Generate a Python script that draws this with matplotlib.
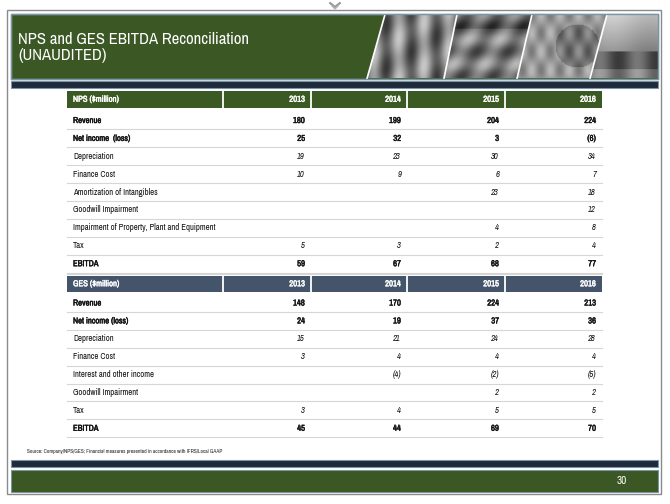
import matplotlib
matplotlib.use("Agg")
import matplotlib.pyplot as plt
from matplotlib import font_manager
import matplotlib.patheffects as pe
from matplotlib.patches import Rectangle, Polygon
import numpy as np

# ---------------- data ----------------
years = ["2013", "2014", "2015", "2016"]

nps_title = "NPS ($million)"
nps_labels = ["Revenue", "Net income  (loss)", "Depreciation", "Finance Cost",
              "Amortization of Intangibles", "Goodwill Impairment",
              "Impairment of Property, Plant and Equipment", "Tax", "EBITDA"]
nps_revenue = [180, 199, 204, 224]
nps_net_income = [25, 32, 3, -6]
nps_depreciation = [19, 23, 30, 34]
nps_finance_cost = [10, 9, 6, 7]
nps_amortization = [None, None, 23, 18]
nps_goodwill = [None, None, None, 12]
nps_ppe_impairment = [None, None, 4, 8]
nps_tax = [5, 3, 2, 4]
nps_ebitda = [59, 67, 68, 77]
nps_bold = [True, True, False, False, False, False, False, False, True]

ges_title = "GES ($million)"
ges_labels = ["Revenue", "Net income (loss)", "Depreciation", "Finance Cost",
              "Interest and other income", "Goodwill Impairment", "Tax", "EBITDA"]
ges_revenue = [148, 170, 224, 213]
ges_net_income = [24, 19, 37, 36]
ges_depreciation = [15, 21, 24, 28]
ges_finance_cost = [3, 4, 4, 4]
ges_interest = [None, -4, -2, -5]
ges_goodwill = [None, None, 2, 2]
ges_tax = [3, 4, 5, 5]
ges_ebitda = [45, 44, 69, 70]
ges_bold = [True, True, False, False, False, False, False, True]

slide_title = "NPS and GES EBITDA Reconciliation\n(UNAUDITED)"
source_note = "Source: Company/NPS/GES; Financial measures presented in accordance with IFRS/Local GAAP"
page_number = "30"

nps_values = [nps_revenue, nps_net_income, nps_depreciation, nps_finance_cost,
              nps_amortization, nps_goodwill, nps_ppe_impairment, nps_tax, nps_ebitda]
ges_values = [ges_revenue, ges_net_income, ges_depreciation, ges_finance_cost,
              ges_interest, ges_goodwill, ges_tax, ges_ebitda]

# ---------------- fonts ----------------
narrow = None
for f in font_manager.fontManager.ttflist:
    if "Narrow" in f.name or "Condensed" in f.name:
        narrow = f.name
        break

if narrow is not None:
    FAM = [narrow, "DejaVu Sans"]
    SCALE = 1.0
else:
    FAM = ["Liberation Sans", "DejaVu Sans"]
    SCALE = 0.9

plt.rcParams["font.family"] = FAM

# ---------------- colours ----------------
GREEN = "#3a5724"
HEAD_GREEN = "#3b5a23"
SLATE = "#44546a"
NAVY = "#1f2a3b"
EDGE = "#7a96a6"
GRID = "#d6d6d6"
INK = "#111111"

W, H = 670, 504
fig = plt.figure(figsize=(W / 100, H / 100), dpi=100)
ax = fig.add_axes([0, 0, 1, 1])
ax.set_xlim(0, W)
ax.set_ylim(H, 0)
ax.axis("off")

def txt(x, y, s, fontsize=6, bold=False, color=INK, **kw):
    if bold:
        kw["path_effects"] = [pe.withStroke(linewidth=0.3, foreground=color)]
        kw["fontweight"] = "bold"
    ax.text(x, y, s, fontsize=fontsize * SCALE, color=color, **kw)

# outer page border
ax.add_patch(Rectangle((7, 10), 654, 484, fill=False, ec="#8a8a8a", lw=1.0))

# small emblem at top
ax.plot([330, 335, 340], [3, 7, 3], color="#9a9a9a", lw=1.6, solid_capstyle="round")
ax.plot([332, 335, 338], [6, 9, 6], color="#b5b5b5", lw=1.0)

# header green band
ax.add_patch(Rectangle((11, 14), 647, 65, fc=GREEN, ec=EDGE, lw=1.0))

# photo panels (greyscale impression)
panels = [
    [(385, 14.5), (457, 14.5), (444, 78.5), (367, 78.5)],
    [(457, 14.5), (532, 14.5), (517, 78.5), (444, 78.5)],
    [(532, 14.5), (607, 14.5), (590, 78.5), (517, 78.5)],
    [(607, 14.5), (657.5, 14.5), (657.5, 78.5), (590, 78.5)],
]
yy, xx = np.mgrid[0:65, 0:300].astype(float)
textures = [
    0.50 + 0.20 * np.sin(xx / 4.0) + 0.08 * np.cos(yy / 7.0 + xx / 11.0),
    0.48 + 0.14 * np.sin((xx + 0.6 * yy) / 5.0) + 0.10 * np.cos(yy / 4.0) - 0.1 * (yy < 15),
    0.60 + 0.12 * np.sin(xx / 3.0) * np.cos(yy / 6.0) - 0.15 * (np.hypot(xx - 60, yy - 32) < 22),
    np.where(yy < 38, 0.78 - yy / 160.0 + 0.05 * np.sin(xx / 13.0),
             0.35 + 0.12 * np.sin(xx / 6.0) + 0.15 * (yy > 55)),
]
for poly, tex in zip(panels, textures):
    p = Polygon(poly, closed=True, fc="none", ec="none")
    ax.add_patch(p)
    xs = [q[0] for q in poly]
    im = ax.imshow(np.clip(tex, 0, 1), cmap="gray", vmin=0, vmax=1,
                   extent=(min(xs), min(xs) + 300, 78.5, 14.5), aspect="auto",
                   interpolation="bilinear", zorder=1)
    im.set_clip_path(p)
for poly in panels:
    ax.plot([poly[0][0], poly[3][0]], [poly[0][1], poly[3][1]], color="white", lw=1.2, zorder=2)
ax.add_patch(Rectangle((11, 14), 647, 65, fc="none", ec=EDGE, lw=1.0, zorder=3))

txt(18, 47.5, slide_title, fontsize=12.0, color="white", va="center", ha="left",
    linespacing=1.12)

# navy bar under header
ax.add_patch(Rectangle((11, 81), 647, 7, fc=NAVY, ec=EDGE, lw=0.8))

# ---------------- tables ----------------
col_edges = [67, 223, 311, 407, 505, 602]
ROW_H = 17.9

def fmt(v):
    if v is None:
        return ""
    return "(%d)" % (-v) if v < 0 else "%d" % v

def draw_table(title, labels, values, bold, head_top, head_h, head_color, first_row_center):
    for c in range(5):
        ax.add_patch(Rectangle((col_edges[c], head_top), col_edges[c + 1] - col_edges[c], head_h,
                               fc=head_color, ec="none"))
        if c > 0:
            ax.plot([col_edges[c], col_edges[c]], [head_top, head_top + head_h],
                    color="white", lw=1.3)
    hc = head_top + head_h / 2
    txt(col_edges[0] + 6, hc, title, fontsize=6.2, color="white", bold=True,
        va="center", ha="left")
    for c, yr in enumerate(years):
        txt(col_edges[c + 2] - 6, hc, yr, fontsize=6.2, color="white", bold=True,
            va="center", ha="right")
    for i, (lab, vals, b) in enumerate(zip(labels, values, bold)):
        cy = first_row_center + i * ROW_H
        txt(col_edges[0] + 6, cy, lab, fontsize=6.2, bold=b, va="center", ha="left")
        for c, v in enumerate(vals):
            txt(col_edges[c + 2] - 6, cy, fmt(v), fontsize=6.2, bold=b,
                fontstyle="normal" if b else "italic", va="center", ha="right")
        ly = cy + ROW_H / 2
        ax.plot([col_edges[0], col_edges[-1]], [ly, ly], color=GRID, lw=0.8)

draw_table(nps_title, nps_labels, nps_values, nps_bold, 91, 16.5, HEAD_GREEN, 120.5)
ax.plot([col_edges[0], col_edges[-1]], [273.5, 273.5], color=GRID, lw=0.8)
draw_table(ges_title, ges_labels, ges_values, ges_bold, 276, 15.5, SLATE, 303)

# source note
txt(27, 452, source_note, fontsize=3.9, color="#222222", va="center", ha="left")

# footer bars
ax.add_patch(Rectangle((11, 460), 647, 7, fc=NAVY, ec=EDGE, lw=0.8))
ax.add_patch(Rectangle((11, 470), 647, 22, fc=GREEN, ec=EDGE, lw=0.8))
txt(622, 481, page_number, fontsize=8.0, color="white", va="center", ha="center")

fig.savefig("out.png", dpi=100)
